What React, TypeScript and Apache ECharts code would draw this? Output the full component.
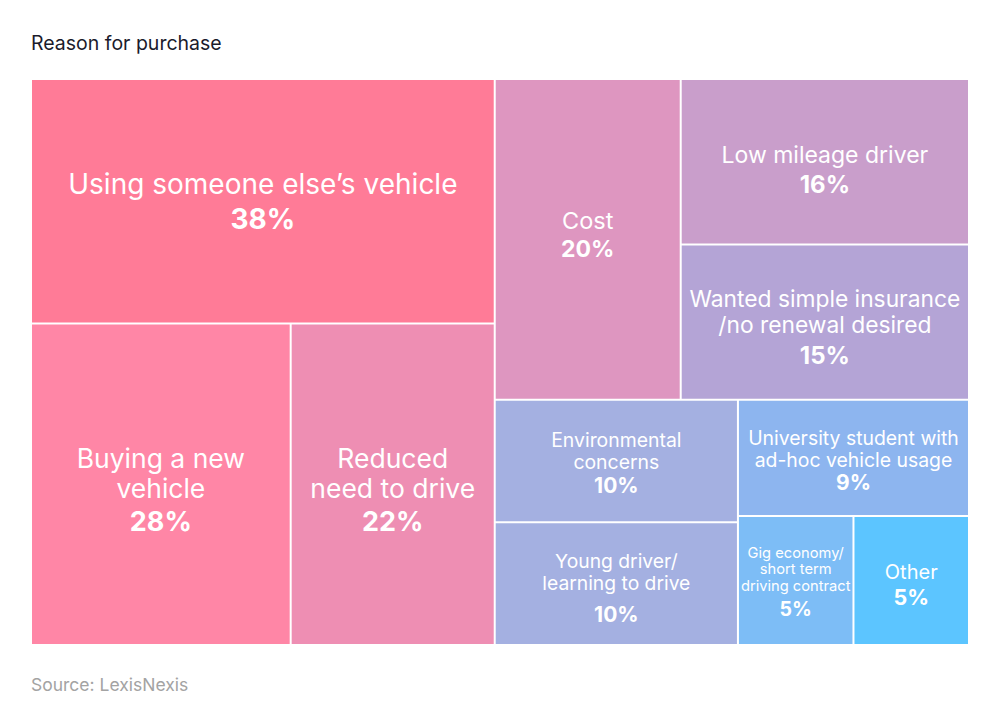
import React, { useEffect, useRef } from "react";
import * as echarts from "echarts";

// ---- Data ----
const categories = [
  "Using someone else’s vehicle",
  "Buying a new vehicle",
  "Reduced need to drive",
  "Cost",
  "Low mileage driver",
  "Wanted simple insurance /no renewal desired",
  "Environmental concerns",
  "Young driver/ learning to drive",
  "University student with ad-hoc vehicle usage",
  "Gig economy/ short term driving contract",
  "Other",
];
const values = [38, 28, 22, 20, 16, 15, 10, 10, 9, 5, 5];
// label lines as displayed
const labelLines = [
  ["Using someone else’s vehicle"],
  ["Buying a new", "vehicle"],
  ["Reduced", "need to drive"],
  ["Cost"],
  ["Low mileage driver"],
  ["Wanted simple insurance", "/no renewal desired"],
  ["Environmental", "concerns"],
  ["Young driver/", "learning to drive"],
  ["University student with", "ad-hoc vehicle usage"],
  ["Gig economy/", "short term", "driving contract"],
  ["Other"],
];
// nesting of the blocks (indices into the arrays above)
const hierarchy: any = [
  [0, [1, 2]],
  [
    [3, [4, 5]],
    [[6, 7], [8, [9, 10]]],
  ],
];

// ---- Styles ----
const colors = [
  "#FF7B97", "#FF86A6", "#EE8EB3", "#DE96C0", "#C99ECB", "#B4A4D6",
  "#A4B0E1", "#A4B0E1", "#8DB5EF", "#7DBDF6", "#5CC5FF",
];
// [nameSize, nameLineHeight, pctSize, pctLineHeight, paddingTop]
const labelStyles = [
  [28, 35, 28, 35, 86.5],
  [26.5, 30, 27, 36, 119],
  [26.5, 30, 27, 36, 119],
  [23.5, 29, 23, 29, 125.5],
  [23, 30, 24, 30, 60],
  [22.8, 25.8, 24, 36.5, 40],
  [19.4, 22, 21, 24.5, 28.5],
  [19.3, 22, 21, 41, 27],
  [19.4, 22, 21, 24, 26],
  [14.7, 16.5, 19.5, 29.5, 27.75],
  [20, 25, 21.5, 25, 42.5],
];
const FONT = "Inter, 'Noto Sans', sans-serif";

function leaf(i: number) {
  const [ns, nl, ps, pl, pt] = labelStyles[i];
  const fmt =
    labelLines[i].map((l) => `{n|${l}}`).join("\n") + `\n{p|${values[i]}%}`;
  return {
    name: categories[i],
    value: values[i],
    itemStyle: { color: colors[i], borderColor: "#ffffff", borderWidth: 1 },
    label: {
      show: true,
      position: "inside",
      formatter: fmt,
      overflow: "none",
      padding: [pt, 0, 0, 0],
      rich: {
        n: { fontSize: ns, lineHeight: nl, color: "#fff", fontFamily: FONT, align: "center" },
        p: { fontSize: ps, lineHeight: pl, color: "#fff", fontFamily: FONT, fontWeight: "bold", align: "center" },
      },
    },
  };
}

function build(node: any, key: string): any {
  if (typeof node === "number") return leaf(node);
  const children = node.map((c: any, j: number) => build(c, key + "-" + j));
  return {
    name: "g" + key,
    children,
    itemStyle: { borderWidth: 0, gapWidth: 0 },
  };
}

export default function App() {
  const ref = useRef<HTMLDivElement>(null);
  useEffect(() => {
    if (!ref.current) return;
    const chart = echarts.init(ref.current, undefined, { renderer: "svg" });
    const data = hierarchy.map((n: any, j: number) => build(n, String(j)));
    chart.setOption({
      animation: false,
      backgroundColor: "#ffffff",
      title: [
        {
          text: "Reason for purchase",
          left: 31,
          top: 33,
          padding: 0,
          textStyle: { fontFamily: FONT, fontSize: 19.5, fontWeight: "normal", color: "#1b1b2c" },
        },
        {
          text: "Source: LexisNexis",
          left: 31,
          top: 675,
          padding: 0,
          textStyle: { fontFamily: FONT, fontSize: 17.5, fontWeight: "normal", color: "#a3a3a3" },
        },
      ],
      series: [
        {
          type: "treemap",
          left: 31,
          top: 79,
          width: 938,
          height: 566,
          roam: false,
          nodeClick: false,
          sort: false,
          squareRatio: 0.2,
          visibleMin: 0,
          breadcrumb: { show: false },
          itemStyle: { borderWidth: 0, gapWidth: 0, borderColor: "#ffffff" },
          label: { show: true, overflow: "none" },
          upperLabel: { show: false },
          data,
        },
      ],
    });
    return () => chart.dispose();
  }, []);
  return (
    <div
      ref={ref}
      style={{ position: "fixed", left: 0, top: 0, width: 1000, height: 720 }}
    />
  );
}
